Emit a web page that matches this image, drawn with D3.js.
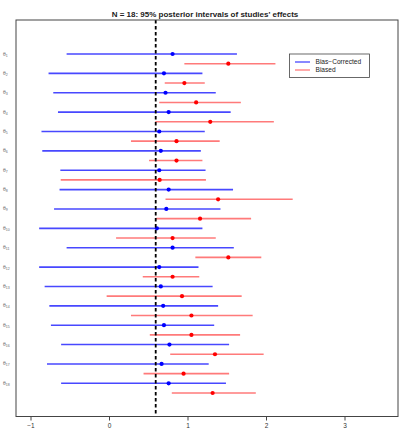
<!DOCTYPE html>
<html>
<head>
<meta charset="utf-8">
<script src="https://d3js.org/d3.v7.min.js"></script>
<style>
  body { margin: 0; background: #fff; }
  svg { font-family: "Liberation Sans", Arial, sans-serif; }
</style>
</head>
<body>
<svg id="chart" width="400" height="433"></svg>
<script>
// study labels (theta_1 .. theta_18)
const studies = d3.range(1, 19);

// bias-corrected intervals: lower, mean, upper
const bcLow  = [-0.54, -0.77, -0.71, -0.65, -0.86, -0.85, -0.62, -0.63, -0.70, -0.89, -0.54, -0.89, -0.82, -0.76, -0.74, -0.61, -0.79, -0.61];
const bcMid  = [0.81, 0.70, 0.72, 0.76, 0.64, 0.66, 0.64, 0.76, 0.73, 0.61, 0.81, 0.64, 0.66, 0.69, 0.70, 0.77, 0.67, 0.76];
const bcHigh = [1.63, 1.19, 1.36, 1.55, 1.22, 1.17, 1.23, 1.58, 1.42, 1.19, 1.59, 1.14, 1.32, 1.39, 1.34, 1.53, 1.27, 1.49];

// biased intervals
const bLow  = [0.96, 0.71, 0.64, 0.59, 0.28, 0.51, -0.615, 0.72, 0.60, 0.09, 1.10, 0.43, -0.03, 0.28, 0.52, 0.78, 0.44, 0.80];
const bMid  = [1.52, 0.96, 1.11, 1.29, 0.86, 0.86, 0.645, 1.39, 1.16, 0.81, 1.52, 0.81, 0.93, 1.05, 1.05, 1.35, 0.95, 1.32];
const bHigh = [2.12, 1.22, 1.68, 2.10, 1.41, 1.19, 1.235, 2.34, 1.81, 1.36, 1.94, 1.15, 1.69, 1.83, 1.67, 1.97, 1.53, 1.87];

const overall = 0.595;
const xTicks = [-1, 0, 1, 2, 3];

const svg = d3.select('#chart');
const box = { left: 16, right: 398, top: 20, bottom: 416.5 };

const x = d3.scaleLinear().domain([-1, 3]).range([30.5, 344.5]);
// each study takes two rows: bias-corrected then biased
const y = d3.scaleLinear().domain([0, 35]).range([54, 393]);

const blue = '#1a1aff';
const red = '#ff3333';

svg.append('text')
  .attr('x', 205).attr('y', 17)
  .attr('text-anchor', 'middle')
  .attr('font-weight', 'bold')
  .attr('font-size', 8)
  .attr('fill', '#222')
  .text("N = 18: 95% posterior intervals of studies' effects");

const rows = studies.map((s, i) => ({
  s: s,
  bc: [bcLow[i], bcMid[i], bcHigh[i]],
  b: [bLow[i], bMid[i], bHigh[i]]
}));

const g = svg.append('g');

g.selectAll('line.bc').data(rows).join('line')
  .attr('x1', d => x(d.bc[0])).attr('x2', d => x(d.bc[2]))
  .attr('y1', (d, i) => y(2 * i)).attr('y2', (d, i) => y(2 * i))
  .attr('stroke', blue).attr('stroke-opacity', 0.8).attr('stroke-width', 1.6);

g.selectAll('line.b').data(rows).join('line')
  .attr('x1', d => x(d.b[0])).attr('x2', d => x(d.b[2]))
  .attr('y1', (d, i) => y(2 * i + 1)).attr('y2', (d, i) => y(2 * i + 1))
  .attr('stroke', red).attr('stroke-opacity', 0.65).attr('stroke-width', 1.6);

// overall mean
svg.append('line')
  .attr('x1', x(overall)).attr('x2', x(overall))
  .attr('y1', box.top).attr('y2', box.bottom)
  .attr('stroke', '#000').attr('stroke-width', 1.8)
  .attr('stroke-dasharray', '3.5,2.5');

g.selectAll('circle.bc').data(rows).join('circle')
  .attr('cx', d => x(d.bc[1])).attr('cy', (d, i) => y(2 * i))
  .attr('r', 2.1).attr('fill', '#0000ff');

g.selectAll('circle.b').data(rows).join('circle')
  .attr('cx', d => x(d.b[1])).attr('cy', (d, i) => y(2 * i + 1))
  .attr('r', 2.1).attr('fill', '#ff0000');

// frame
svg.append('rect')
  .attr('x', box.left).attr('y', box.top)
  .attr('width', box.right - box.left).attr('height', box.bottom - box.top)
  .attr('fill', 'none').attr('stroke', '#444').attr('stroke-width', 1);

// x axis, R style
const xAxis = svg.append('g')
  .attr('transform', `translate(0 ${box.bottom})`)
  .call(d3.axisBottom(x).tickValues(xTicks).tickSize(4).tickPadding(3)
    .tickFormat(d => d < 0 ? '\u2212' + Math.abs(d) : d));
xAxis.select('.domain').remove();
xAxis.selectAll('line').attr('stroke', '#444');
xAxis.selectAll('text').attr('font-size', 6.5).attr('fill', '#333')
  .attr('font-family', '"Liberation Sans", Arial, sans-serif');

// y labels
const lab = svg.append('g').selectAll('text').data(rows).join('text')
  .attr('x', 3).attr('y', (d, i) => y(2 * i) + 1.5)
  .attr('font-size', 5).attr('fill', '#666');
lab.append('tspan').text('\u03b8');
lab.append('tspan').attr('font-size', 3.5).attr('dy', 1).text(d => d.s);

// legend
const leg = svg.append('g');
leg.append('rect')
  .attr('x', 289.5).attr('y', 54).attr('width', 80).attr('height', 23.5)
  .attr('fill', '#fff').attr('stroke', '#444').attr('stroke-width', 0.8);
const legItems = [['Bias\u2212Corrected', blue, 0.8], ['Biased', red, 0.65]];
legItems.forEach((it, i) => {
  const yy = 62 + i * 8;
  leg.append('line').attr('x1', 295).attr('x2', 310).attr('y1', yy).attr('y2', yy)
    .attr('stroke', it[1]).attr('stroke-opacity', it[2]).attr('stroke-width', 1.3);
  leg.append('text').attr('x', 315.5).attr('y', yy + 2.3)
    .attr('font-size', 6.6).attr('fill', '#222').text(it[0]);
});
</script>
</body>
</html>
